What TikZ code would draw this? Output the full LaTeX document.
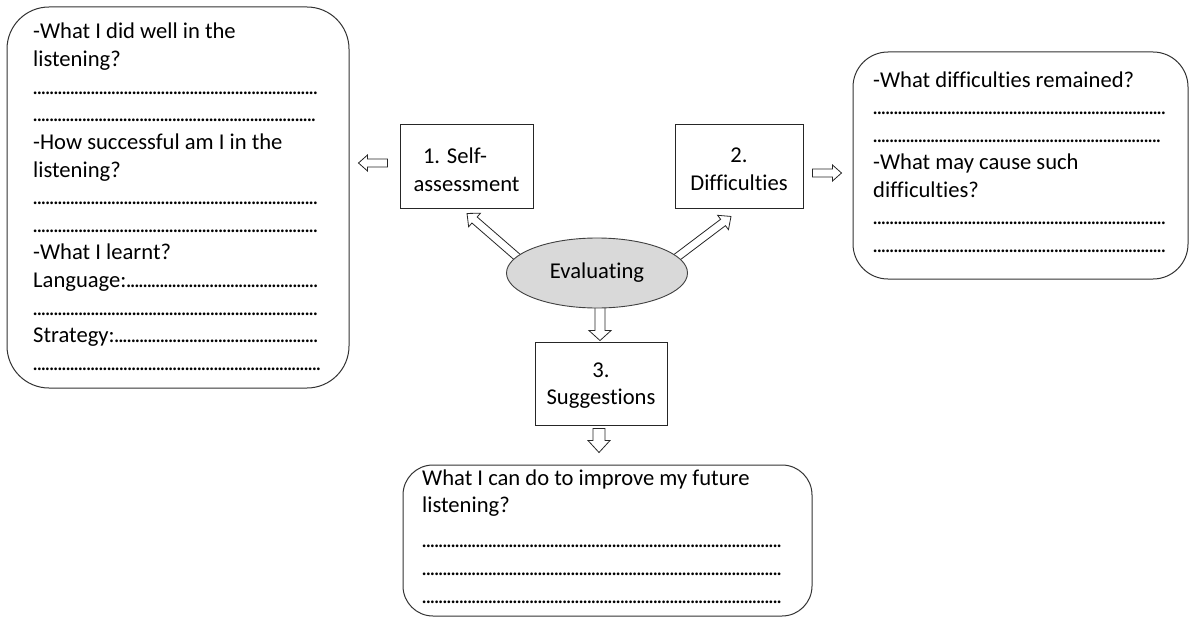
\documentclass[tikz,border=0pt]{standalone}
\usepackage{fontspec}
\setmainfont{Carlito}[Ligatures={NoCommon}]
\usetikzlibrary{calc,shapes.geometric}
\newcommand\dl[2]{\hbox to #1pt{#2\xleaders\hbox to 4.1pt{\hss.\hss}\hfill}}
\newcommand\harrow[5]{%
  \coordinate (hh) at ($(#2)!#5!(#1)$);
  \draw[hollow] ($(#1)!#3!90:(#2)$) -- ($(hh)!#3!90:(#2)$) -- ($(hh)!#4!90:(#2)$) -- (#2)
    -- ($(hh)!#4!-90:(#2)$) -- ($(hh)!#3!-90:(#2)$) -- ($(#1)!#3!-90:(#2)$) -- cycle;}
\begin{document}
\begin{tikzpicture}[x=1pt,y=-1pt,
  every node/.style={font=\fontsize{22.6}{27.6}\selectfont},
  rbx/.style={draw=black!80, line width=1pt, inner sep=0pt},
  sbox/.style={draw=black!85, line width=0.9pt, inner sep=0pt, minimum width=133pt, minimum height=84pt},
  btxt/.style={align=center, inner sep=0pt},
  txt/.style={inner sep=0pt, anchor=base west},
  hollow/.style={draw=black!85, fill=white, line width=0.8pt, line join=miter}]
\useasboundingbox (0,0) rectangle (1190,618);
\fill[white] (0,0) rectangle (1190,618);

% rounded boxes
\node[rbx, rounded corners=42pt, minimum width=342pt, minimum height=381pt] (lbox) at (178,197.5) {};
\node[rbx, rounded corners=35pt, minimum width=335pt, minimum height=227pt] (rbox) at (1020.5,165.5) {};
\node[rbx, rounded corners=30pt, minimum width=409pt, minimum height=151pt] (bbox) at (607.5,540.5) {};

% step boxes
\node[sbox] (sa) at (466.5,166) {};
\node[sbox, minimum width=128pt] (diff) at (739,166) {};
\node[sbox, minimum width=132pt, minimum height=83pt] (sug) at (601,383.5) {};
\node[btxt] (sat) at ($(sa)+(0,3.5)$) {1. Self-\hspace*{23pt}\\assessment};
\node[btxt] (difft) at ($(diff)+(0,3.5)$) {2.\\Difficulties};
\node[btxt] (sugt) at ($(sug)+(0,2)$) {3.\\Suggestions};
\coordinate (evc) at (597,273);

% left box text
\foreach \t [count=\i] in {{-What I did well in the},{listening?},{\dl{285}{}},{\dl{283}{}},
  {-How successful am I in the},{listening?},{\dl{285}{}},{\dl{285}{}},{-What I learnt?},
  {\dl{285}{Language:}},{\dl{285}{}},{\dl{285}{Strategy:}},{\dl{288}{}}}
  \node[txt] (l\i) at (33,{39+27.6*(\i-1)}) {\t};

% right box text
\foreach \t [count=\i] in {{-What difficulties remained?},{\dl{293}{}},{\dl{288}{}},
  {-What may cause such},{difficulties?},{\dl{293}{}},{\dl{293}{}}}
  \node[txt] (r\i) at (873,{87+27.5*(\i-1)}) {\t};

% bottom box text
\node[txt] (b1) at (422,485) {What I can do to improve my future};
\node[txt] (b2) at (422,512) {listening?};
\node[txt] (b3) at (422,547) {\dl{360}{}};
\node[txt] (b4) at (422,575) {\dl{360}{}};
\node[txt] (b5) at (422,603) {\dl{360}{}};

% arrow end points
\coordinate (a1s) at ($(sa.west)+(-12,-3)$);
\coordinate (a1e) at ($(lbox.east |- a1s)+(9,0)$);
\coordinate (a2s) at ($(diff.east)+(9,7)$);
\coordinate (a2e) at ($(rbox.west |- a2s)+(-11,0)$);
\coordinate (a3s) at ($(evc)+(-73,-10)$);
\coordinate (a3e) at ($(sa.south)+(0.5,5)$);
\coordinate (a4s) at ($(evc)+(75,-12)$);
\coordinate (a4e) at ($(diff.south)+(-8,8)$);
\coordinate (a5s) at ($(evc)+(3,25)$);
\coordinate (a5e) at ($(sug.north)+(-1,-1)$);
\coordinate (a6s) at ($(sug.south)+(-2,3)$);
\coordinate (a6e) at ($(bbox.north)+(-8.5,-12)$);

\harrow{a1s}{a1e}{4pt}{8pt}{9pt}
\harrow{a2s}{a2e}{4pt}{8pt}{9pt}
\harrow{a3s}{a3e}{4pt}{9pt}{10pt}
\harrow{a4s}{a4e}{4pt}{9pt}{10pt}
\harrow{a5s}{a5e}{5pt}{11pt}{10pt}
\harrow{a6s}{a6e}{6pt}{11pt}{12pt}

% central ellipse
\node[ellipse, draw=black!75, line width=0.9pt, fill=black!15, minimum width=181pt, minimum height=70pt, inner sep=0pt] (ev) at (evc) {Evaluating};
\end{tikzpicture}
\end{document}
